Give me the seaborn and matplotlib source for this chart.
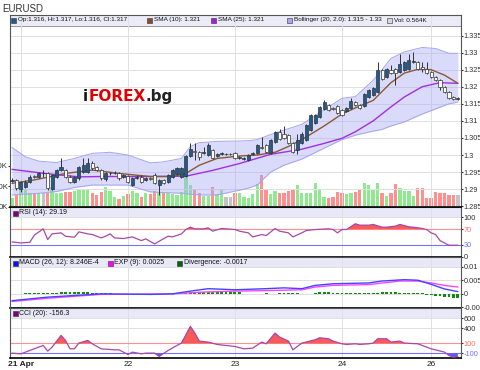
import matplotlib
matplotlib.use("Agg")
import matplotlib.pyplot as plt
from matplotlib.patches import Rectangle
import seaborn as sns
import numpy as np

# hourly EURUSD bars, 21 Apr -> 26 Apr
opens = [1.2925, 1.2927, 1.2900, 1.2907, 1.2922, 1.2937, 1.2936, 1.2948, 1.2948, 1.2900,
         1.2937, 1.2956, 1.2956, 1.2937, 1.2922, 1.2932, 1.2951, 1.2951, 1.2978, 1.2966,
         1.2956, 1.2929, 1.2946, 1.2946, 1.2948, 1.2937, 1.2938, 1.2912, 1.2932, 1.2937,
         1.2927, 1.2932, 1.2941, 1.2912, 1.2927, 1.2922, 1.2937, 1.2945, 1.2937, 1.2938,
         1.2997, 1.3013, 1.3010, 1.3007, 1.2999, 1.3015, 1.2998, 1.3003, 1.3003, 1.3003,
         1.3005, 1.2990, 1.2987, 1.2985, 1.3003, 1.3005, 1.3024, 1.3029, 1.3007, 1.3039,
         1.3068, 1.3063, 1.3059, 1.3034, 1.3015, 1.3034, 1.3044, 1.3073, 1.3093, 1.3112,
         1.3136, 1.3146, 1.3139, 1.3143, 1.3132, 1.3130, 1.3139, 1.3156, 1.3146, 1.3143,
         1.3171, 1.3175, 1.3185, 1.3249, 1.3229, 1.3249, 1.3253, 1.3244, 1.3249, 1.3253,
         1.3273, 1.3273, 1.3258, 1.3253, 1.3244, 1.3229, 1.3219, 1.3200, 1.3185, 1.3170,
         1.3164]
closes = [1.2927, 1.2902, 1.2922, 1.2922, 1.2937, 1.2936, 1.2946, 1.2948, 1.2902, 1.2941,
          1.2956, 1.2964, 1.2937, 1.2922, 1.2935, 1.2966, 1.2971, 1.2978, 1.2961, 1.2956,
          1.2932, 1.2946, 1.2947, 1.2948, 1.2932, 1.2941, 1.2922, 1.2932, 1.2937, 1.2922,
          1.2932, 1.2930, 1.2917, 1.2927, 1.2917, 1.2941, 1.2956, 1.2961, 1.2961, 1.2997,
          1.3019, 1.3010, 1.2995, 1.3010, 1.3029, 1.2990, 1.3003, 1.3005, 1.3003, 1.3003,
          1.2990, 1.2993, 1.2990, 1.3000, 1.3007, 1.3029, 1.3022, 1.3010, 1.3044, 1.3068,
          1.3046, 1.3049, 1.3034, 1.3010, 1.3044, 1.3063, 1.3088, 1.3117, 1.3117, 1.3141,
          1.3156, 1.3132, 1.3134, 1.3124, 1.3117, 1.3139, 1.3159, 1.3146, 1.3138, 1.3180,
          1.3190, 1.3195, 1.3249, 1.3224, 1.3251, 1.3239, 1.3239, 1.3268, 1.3273, 1.3278,
          1.3276, 1.3253, 1.3251, 1.3239, 1.3229, 1.3219, 1.3200, 1.3185, 1.3166, 1.3163,
          1.3166]
highs = [1.2932, 1.2930, 1.2925, 1.2926, 1.2940, 1.2942, 1.2950, 1.2956, 1.2950, 1.2944,
         1.2960, 1.2990, 1.2960, 1.2940, 1.2938, 1.2968, 1.2990, 1.2992, 1.2982, 1.2968,
         1.2958, 1.2950, 1.2951, 1.2952, 1.2951, 1.2945, 1.2941, 1.2935, 1.2940, 1.2940,
         1.2935, 1.2935, 1.2946, 1.2930, 1.2930, 1.2944, 1.2959, 1.2964, 1.2964, 1.3000,
         1.3034, 1.3034, 1.3013, 1.3024, 1.3034, 1.3018, 1.3006, 1.3008, 1.3007, 1.3006,
         1.3008, 1.2996, 1.2993, 1.3003, 1.3010, 1.3032, 1.3052, 1.3032, 1.3047, 1.3071,
         1.3075, 1.3086, 1.3062, 1.3037, 1.3063, 1.3066, 1.3091, 1.3120, 1.3120, 1.3144,
         1.3161, 1.3149, 1.3142, 1.3146, 1.3135, 1.3142, 1.3166, 1.3159, 1.3149, 1.3183,
         1.3193, 1.3198, 1.3273, 1.3252, 1.3254, 1.3263, 1.3256, 1.3297, 1.3276, 1.3297,
         1.3302, 1.3276, 1.3273, 1.3273, 1.3247, 1.3232, 1.3222, 1.3203, 1.3188, 1.3173,
         1.3170]
lows = [1.2920, 1.2898, 1.2893, 1.2903, 1.2918, 1.2932, 1.2933, 1.2937, 1.2898, 1.2897,
        1.2934, 1.2952, 1.2933, 1.2918, 1.2917, 1.2928, 1.2948, 1.2948, 1.2957, 1.2952,
        1.2928, 1.2925, 1.2942, 1.2943, 1.2928, 1.2934, 1.2918, 1.2908, 1.2929, 1.2918,
        1.2924, 1.2927, 1.2914, 1.2883, 1.2914, 1.2919, 1.2934, 1.2942, 1.2934, 1.2935,
        1.2994, 1.2985, 1.2985, 1.3004, 1.2996, 1.2987, 1.2995, 1.3000, 1.3000, 1.3000,
        1.2987, 1.2987, 1.2984, 1.2982, 1.3000, 1.3002, 1.3019, 1.3007, 1.3004, 1.3036,
        1.3043, 1.3046, 1.3031, 1.3005, 1.3003, 1.3031, 1.3041, 1.3070, 1.3090, 1.3109,
        1.3133, 1.3129, 1.3131, 1.3121, 1.3114, 1.3127, 1.3136, 1.3143, 1.3135, 1.3140,
        1.3168, 1.3172, 1.3182, 1.3221, 1.3226, 1.3236, 1.3205, 1.3241, 1.3246, 1.3250,
        1.3270, 1.3250, 1.3244, 1.3236, 1.3226, 1.3216, 1.3190, 1.3182, 1.3163, 1.3160,
        1.3162]
volume_k = [0.40, 0.56, 0.84, 0.84, 0.67, 0.64, 0.64, 0.64, 0.67, 0.94,
            0.64, 0.64, 0.70, 0.70, 0.77, 0.87, 0.87, 0.80, 0.64, 0.56,
            0.70, 0.94, 0.77, 0.48, 0.35, 0.51, 0.62, 0.74, 0.64, 0.48,
            0.64, 0.62, 0.77, 0.72, 0.64, 0.64, 0.62, 0.56, 0.72, 1.53,
            1.05, 0.84, 0.67, 0.54, 0.54, 0.97, 0.62, 0.80, 0.48, 0.48,
            0.67, 0.67, 0.48, 0.40, 0.62, 1.10, 1.52, 0.80, 0.62, 0.77,
            0.64, 0.64, 0.74, 0.84, 1.03, 0.64, 0.64, 0.64, 1.13, 0.84,
            0.48, 0.40, 0.48, 0.70, 0.64, 0.62, 0.67, 0.72, 0.80, 1.13,
            1.05, 0.80, 1.13, 0.64, 0.51, 0.67, 1.08, 0.92, 0.76, 0.76,
            0.51, 0.89, 0.89, 0.40, 0.40, 0.72, 0.67, 0.67, 0.56, 0.56,
            0.564]

# overlays (read at sample bars)
sma10_idx = [0, 5, 12, 18, 24, 31, 36, 39, 42, 46, 51, 55, 59, 62, 65, 70, 74, 77, 81, 85, 88, 91, 94, 97, 100]
sma10 = [1.2917, 1.2927, 1.2946, 1.2956, 1.2946, 1.2937, 1.2937, 1.2946, 1.2970, 1.2990, 1.2997, 1.3000,
         1.3008, 1.3025, 1.3045, 1.3085, 1.3120, 1.3138, 1.3160, 1.3212, 1.3240, 1.3251, 1.3250, 1.3234, 1.3210]
sma25_idx = [0, 8, 15, 20, 31, 39, 45, 51, 58, 65, 70, 74, 77, 81, 85, 88, 92, 96, 100]
sma25 = [1.2958, 1.2945, 1.2936, 1.2937, 1.2937, 1.2938, 1.2955, 1.2975, 1.3002, 1.3017, 1.3034, 1.3049,
         1.3068, 1.3100, 1.3141, 1.3170, 1.3200, 1.3212, 1.3210]
bb_idx = [0, 3, 6, 10, 14, 18, 22, 26, 31, 34, 38, 40, 42, 46, 51, 53, 55, 58, 61, 65, 70, 74, 77, 81, 83,
          85, 88, 92, 95, 98, 100]
bb_upper = [1.3022, 1.2995, 1.2982, 1.2978, 1.2990, 1.3005, 1.3008, 1.3000, 1.2977, 1.2980, 1.2990, 1.3025,
            1.3036, 1.3040, 1.3041, 1.3042, 1.3045, 1.3060, 1.3073, 1.3090, 1.3132, 1.3166, 1.3171, 1.3219,
            1.3250, 1.3283, 1.3302, 1.3315, 1.3312, 1.3298, 1.3298]
bb_lower = [1.2883, 1.2885, 1.2888, 1.2893, 1.2905, 1.2912, 1.2912, 1.2912, 1.2892, 1.2890, 1.2888, 1.2885,
            1.2883, 1.2883, 1.2897, 1.2903, 1.2912, 1.2950, 1.2970, 1.2988, 1.3020, 1.3045, 1.3058, 1.3070,
            1.3075, 1.3085, 1.3097, 1.3120, 1.3135, 1.3150, 1.3155]

rsi_idx = [0, 2, 4, 5, 7, 8, 9, 11, 12, 14, 15, 17, 18, 20, 21, 22, 23, 25, 27, 29, 30, 32, 33, 35, 36, 38,
           39, 40, 41, 43, 44, 45, 47, 48, 50, 51, 53, 54, 56, 57, 59, 60, 62, 63, 65, 66, 68, 71, 72, 73,
           74, 75, 77, 78, 80, 81, 83, 84, 86, 87, 89, 90, 92, 93, 94, 95, 96, 97, 98, 100]
rsi = [37.6, 35.0, 36.8, 54.7, 70.9, 43.6, 58.1, 60.7, 52.1, 49.6, 63.2, 58.1, 56.4, 47.9, 52.1, 58.1, 47.9,
       46.2, 50.4, 41.0, 45.3, 32.5, 39.3, 52.1, 50.4, 58.1, 69.2, 75.2, 70.9, 70.9, 73.5, 65.0, 71.8, 70.9,
       69.2, 65.0, 60.7, 50.4, 56.4, 53.8, 71.8, 65.0, 60.7, 50.4, 60.7, 66.7, 69.2, 70.9, 69.2, 60.7, 69.2,
       69.2, 83.8, 80.3, 80.3, 82.1, 75.2, 75.2, 77.8, 82.1, 76.1, 75.2, 71.8, 69.2, 60.7, 56.4, 41.0, 35.0,
       29.1, 29.19]

macd_idx = [0, 8, 20, 31, 36, 40, 44, 50, 57, 61, 65, 68, 72, 80, 83, 88, 91, 94, 97, 100]
macd = [-0.0025, -0.0012, 0.0000, -0.0002, 0.0000, 0.0010, 0.0019, 0.0015, 0.0019, 0.0022, 0.0019, 0.0031,
        0.0037, 0.0040, 0.0047, 0.0052, 0.0050, 0.0035, 0.0018, 0.00082]
exp_idx = [0, 8, 20, 36, 42, 50, 57, 65, 68, 72, 80, 87, 91, 94, 97, 100]
exp9 = [-0.0028, -0.0016, -0.0002, 0.0000, 0.0006, 0.0010, 0.0012, 0.0015, 0.0025, 0.0031, 0.0034, 0.0047,
        0.0047, 0.0040, 0.0031, 0.0025]
divergence_e4 = [0, 0, 0, 4, 4, 4, 4, 4, 4, 4,
                 4, 6, 6, 6, 6, 6, 6, 6, 4, 4,
                 4, 4, 4, 0, 0, 0, 0, 0, 0, 0,
                 0, 0, 0, 0, 0, 0, 3, 3, 3, 3,
                 8, 8, 8, 8, 8, 8, 5, 5, 5, 5,
                 5, 5, 0, 0, 0, 0, 0, 3, 0, 0,
                 4, 4, 4, 4, 4, 0, 0, 0, 4, 7,
                 7, 7, 3, 3, 3, 3, 3, 3, 3, 3,
                 3, 3, 3, 6, 6, 6, 6, 4, 4, 4,
                 4, 4, 4, -3, -5, -7, -9, -11, -13, -15,
                 -17]

cci_idx = [0, 2, 4, 7, 8, 9, 11, 12, 13, 14, 15, 17, 18, 20, 23, 24, 26, 27, 29, 30, 32, 33, 35, 37, 38,
           40, 41, 42, 44, 46, 50, 52, 54, 56, 57, 59, 60, 62, 63, 65, 68, 69, 71, 72, 74, 75, 77, 78, 80,
           81, 82, 84, 85, 87, 88, 91, 92, 94, 97, 98, 99, 100]
cci = [-93, -107, -40, 60, -53, 27, 260, 160, -7, -7, 107, 160, 93, -7, -27, -27, -120, -73, -107, -93, -93,
       -160, -40, 60, 107, 440, 307, 147, 127, 80, 40, -7, 7, 127, 93, 307, 227, 147, -27, 107, 173, 213,
       193, 147, 93, 80, 93, 80, 93, 107, 193, 193, 127, 147, 107, 93, 60, -7, -73, -140, -173, -156.3]

day_idx = [2, 26, 50, 74, 94]
day_labels = ["21 Apr", "22", "23", "24", "26"]
price_ticks = [1.285, 1.29, 1.295, 1.3, 1.305, 1.31, 1.315, 1.32, 1.325, 1.33, 1.335]
price_labels = ["1.285", "1.29", "1.295", "1.3", "1.305", "1.31", "1.315", "1.32", "1.325", "1.33", "1.335"]

W, H = 480, 370
sns.set_style("white")
plt.rcParams["font.family"] = ["Liberation Sans", "DejaVu Sans"]
plt.rcParams["axes.unicode_minus"] = False

fig = plt.figure(figsize=(W / 100, H / 100), dpi=100)


def panel(top, bottom):
    return fig.add_axes([10 / W, 1 - bottom / H, 451 / W, (bottom - top) / H])


ax = panel(14.7, 206.6)
ax_rsi = panel(206.6, 257.3)
ax_macd = panel(257.3, 307.5)
ax_cci = panel(307.5, 358.3)

x = np.arange(len(opens))
o, c, h, l = (np.array(a) for a in (opens, closes, highs, lows))
up = c > o

# volume behind the price
vax = ax.twinx()
ax.set_zorder(vax.get_zorder() + 1)
ax.patch.set_visible(False)
vax.patch.set_visible(True)
vax.patch.set_facecolor("white")
vol_colors = np.where(up, "#8fea8f", np.where(c < o, "#ff9090", "#c4c4c4"))
vol_colors[-1] = "#c4c4c4"
vax.bar(x, volume_k, width=0.75, color=vol_colors, linewidth=0)
vax.set_ylim(0, 9.36)
vax.yaxis.tick_left()
vax.set_yticks([0, 1, 2])
vax.set_yticklabels(["0K", "1.0K", "2.0K"])
vax.tick_params(axis="y", labelsize=5.6, length=1.5, pad=0, colors="#333333")

# bollinger band and moving averages
ax.fill_between(bb_idx, bb_lower, bb_upper, color="#a8a8f5", alpha=0.42, lw=0, zorder=1)
ax.plot(bb_idx, bb_upper, color="#a4a4f2", lw=0.7, zorder=1)
ax.plot(bb_idx, bb_lower, color="#a4a4f2", lw=0.7, zorder=1)
sns.lineplot(x=sma25_idx, y=sma25, ax=ax, color="#a22ee6", lw=1.0, zorder=2)
sns.lineplot(x=sma10_idx, y=sma10, ax=ax, color="#8a5a34", lw=1.0, zorder=2)

# candles
ax.vlines(x, l, h, color="#333333", lw=0.7, zorder=3)
body = np.maximum(np.abs(c - o), 0.00012)
ax.bar(x, body, bottom=(o + c) / 2 - body / 2, width=0.7,
       color=np.where(up, "#1f5c8b", "white"), edgecolor="#333333", lw=0.5, zorder=4)

ax.set_ylim(1.28489, 1.3411)
ax.set_yticks(price_ticks)
ax.set_yticklabels(price_labels)
vax.set_ylabel("")

# RSI
ax_rsi.set_ylim(-1.6, 127.6)
ax_rsi.axhspan(100, 127.6, color="#e8e8f8", lw=0, zorder=0)
ax_rsi.axhline(70, color="#ff9090", lw=0.8, zorder=1)
ax_rsi.axhline(30, color="#7474f4", lw=0.8, zorder=1)
rsi_a = np.array(rsi)
ax_rsi.fill_between(rsi_idx, 70, rsi_a, where=rsi_a > 70, interpolate=True, color="#f85a5a", lw=0, zorder=2)
ax_rsi.fill_between(rsi_idx, 30, rsi_a, where=rsi_a < 30, interpolate=True, color="#5a5af8", lw=0, zorder=2)
sns.lineplot(x=rsi_idx, y=rsi, ax=ax_rsi, color="#a848a8", lw=0.9, zorder=3)
ax_rsi.set_yticks([0, 30, 70, 100])

# MACD
ax_macd.set_ylim(-0.005, 0.0134)
ax_macd.axhspan(0.01, 0.0134, color="#e8e8f8", lw=0, zorder=0)
ax_macd.bar(x, np.array(divergence_e4) * 1e-4, width=0.65, color="#108a10", lw=0, zorder=2)
sns.lineplot(x=exp_idx, y=exp9, ax=ax_macd, color="#ff44ff", lw=1.0, zorder=3)
sns.lineplot(x=macd_idx, y=macd, ax=ax_macd, color="#4444ff", lw=1.0, zorder=4)
ax_macd.set_yticks([-0.005, 0, 0.005, 0.01])
ax_macd.set_yticklabels(["-0.005", "0", "0.005", "0.01"])

# CCI
ax_cci.set_ylim(-196, 816)
ax_cci.axhspan(600, 816, color="#e8e8f8", lw=0, zorder=0)
ax_cci.axhline(100, color="#ff9090", lw=0.8, zorder=1)
ax_cci.axhline(-100, color="#7474f4", lw=0.8, zorder=1)
cci_a = np.array(cci)
ax_cci.fill_between(cci_idx, 100, cci_a, where=cci_a > 100, interpolate=True, color="#f85a5a", lw=0, zorder=2)
ax_cci.fill_between(cci_idx, -100, cci_a, where=cci_a < -100, interpolate=True, color="#5a5af8", lw=0, zorder=2)
sns.lineplot(x=cci_idx, y=cci, ax=ax_cci, color="#a848a8", lw=0.9, zorder=3)
ax_cci.set_yticks([-100, 100, 400, 600])

# shared styling
for a in (ax, ax_rsi, ax_macd, ax_cci):
    a.set_xlim(-0.45, 100.7)
    a.set_xticks(day_idx)
    a.yaxis.tick_right()
    a.grid(True, color="#e0e0e0", lw=0.7)
    a.set_axisbelow(True)
    a.tick_params(axis="y", labelsize=5.3, length=1.5, pad=0.3, colors="#333333", direction="out")
    a.tick_params(axis="x", length=0, labelbottom=False)
    a.set_ylabel("")
    for side in ("left", "right", "top"):
        a.spines[side].set_color("#555555")
        a.spines[side].set_linewidth(0.8)
    a.spines["bottom"].set_color("black")
    a.spines["bottom"].set_linewidth(1.2)
for side in vax.spines:
    vax.spines[side].set_visible(False)

for lbl in ax_rsi.get_yticklabels():
    if lbl.get_text() == "70":
        lbl.set_color("#ff7070")
    if lbl.get_text() == "30":
        lbl.set_color("#7070ff")
for lbl in ax_cci.get_yticklabels():
    if lbl.get_text() == "100":
        lbl.set_color("#ff7070")
    if lbl.get_text() == "-100":
        lbl.set_color("#7070ff")

ax_cci.tick_params(axis="x", labelbottom=True, labelsize=6, pad=2, colors="#222222")
ax_cci.set_xticklabels(day_labels)
ax_cci.get_xticklabels()[0].set_fontweight("bold")

# title, watermark, legends
fig.text(2 / W, 1 - 12 / H, "EURUSD", fontsize=7, color="#333333", va="baseline")

t1 = fig.text(83 / W, 1 - 101 / H, "i", fontsize=11, fontweight="bold", color="#151515",
              va="baseline", family="DejaVu Sans")
t2 = ax.annotate("FOREX", xy=(1, 0), xycoords=t1, va="bottom", ha="left", fontsize=11,
                 fontweight="bold", color="#e00000", family="DejaVu Sans", annotation_clip=False)
ax.annotate(".bg", xy=(1, 0), xycoords=t2, va="bottom", ha="left", fontsize=11,
            fontweight="bold", color="#222222", family="DejaVu Sans", annotation_clip=False)

fig.add_artist(Rectangle((10 / W, 1 - 25.5 / H), 451 / W, 10.8 / H, transform=fig.transFigure,
                         fc="#ebebf8", ec="#8a8a8a", lw=0.6))


def legend_row(y, items, size):
    for lx, color, label in items:
        fig.add_artist(Rectangle((lx / W, 1 - (y + 2.5) / H), 5 / W, 5 / H, transform=fig.transFigure,
                                 fc=color, ec="#333333", lw=0.4))
        fig.text((lx + 6.5) / W, 1 - y / H, label, fontsize=size, va="center", color="#111111")


legend_row(20, [(11, "#1f5c8b", "Op:1.316, Hi:1.317, Lo:1.316, Cl:1.317"),
                (147, "#8b4a1f", "SMA (10): 1.321"),
                (211, "#9b1fe0", "SMA (25): 1.321"),
                (287, "#a8a8f0", "Bollinger (20, 2.0): 1.315 - 1.33"),
                (387, "#d8d8d8", "Vol: 0.564K")], 4.6)
legend_row(213, [(12.5, "#800080", "RSI (14): 29.19")], 5)
legend_row(263, [(12.5, "#1010e0", "MACD (26, 12): 8.246E-4"),
                 (108, "#ff00ff", "EXP (9): 0.0025"),
                 (177, "#006400", "Divergence: -0.0017")], 5)
legend_row(313.5, [(12.5, "#800080", "CCI (20): -156.3")], 5)

fig.savefig("out.png", dpi=100)
